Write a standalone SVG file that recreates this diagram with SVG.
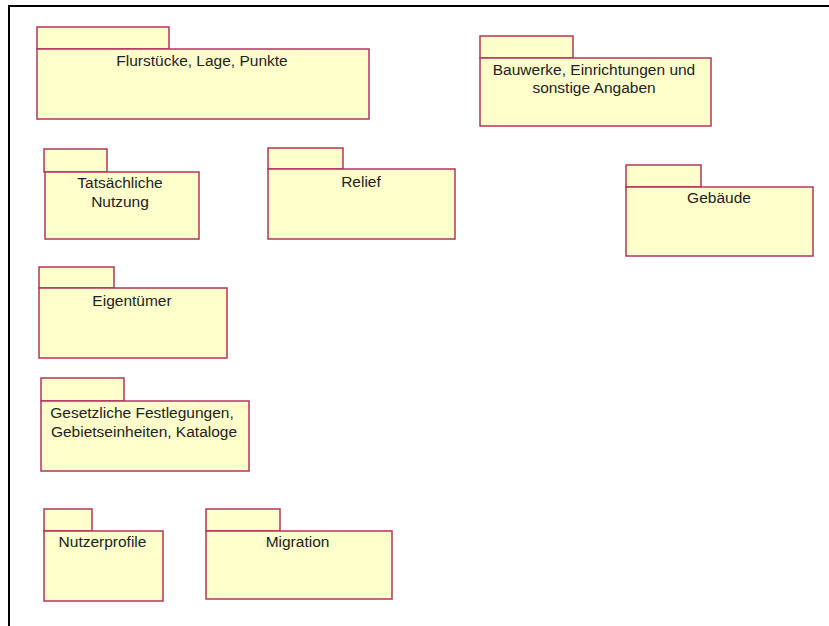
<svg xmlns="http://www.w3.org/2000/svg" width="829" height="626" viewBox="0 0 829 626">
  <style>
    .pkg rect { fill: #FFFFCC; stroke: #B3345E; stroke-width: 1.5; }
    .pkg text { font-family: "Liberation Sans", Arial, sans-serif; font-size: 15.5px; fill: #222; text-anchor: middle; }
    .frame { fill: none; stroke: #000; stroke-width: 2; }
  </style>
  <rect width="829" height="626" fill="#fff"/>
  <!-- diagram frame (open to the right and bottom) -->
  <path class="frame" d="M9 626 V6 H829"/>

  <g id="connectors"></g>

  <g id="flurstuecke" class="pkg">
    <rect x="37" y="27" width="132" height="22"/>
    <rect x="37" y="49" width="332" height="70"/>
    <text x="202" y="66">Flurstücke, Lage, Punkte</text>
  </g>

  <g id="bauwerke" class="pkg">
    <rect x="480" y="36" width="93" height="22"/>
    <rect x="480" y="58" width="231" height="68"/>
    <text x="594" y="75">Bauwerke, Einrichtungen und</text>
    <text x="594" y="93">sonstige Angaben</text>
  </g>

  <g id="nutzung" class="pkg">
    <rect x="44" y="149" width="63" height="23"/>
    <rect x="45" y="172" width="154" height="67"/>
    <text x="120" y="188">Tatsächliche</text>
    <text x="120" y="207">Nutzung</text>
  </g>

  <g id="relief" class="pkg">
    <rect x="268" y="148" width="75" height="21"/>
    <rect x="268" y="169" width="187" height="70"/>
    <text x="361" y="187">Relief</text>
  </g>

  <g id="gebaeude" class="pkg">
    <rect x="626" y="165" width="75" height="22"/>
    <rect x="626" y="187" width="187" height="69"/>
    <text x="719" y="203">Gebäude</text>
  </g>

  <g id="eigentuemer" class="pkg">
    <rect x="39" y="267" width="75" height="21"/>
    <rect x="39" y="288" width="188" height="70"/>
    <text x="132" y="306">Eigentümer</text>
  </g>

  <g id="festlegungen" class="pkg">
    <rect x="41" y="378" width="83" height="23"/>
    <rect x="41" y="401" width="208" height="70"/>
    <text x="142" y="418">Gesetzliche Festlegungen,</text>
    <text x="144" y="437">Gebietseinheiten, Kataloge</text>
  </g>

  <g id="nutzerprofile" class="pkg">
    <rect x="44" y="509" width="48" height="22"/>
    <rect x="44" y="531" width="119" height="70"/>
    <text x="102.5" y="547">Nutzerprofile</text>
  </g>

  <g id="migration" class="pkg">
    <rect x="206" y="509" width="74" height="22"/>
    <rect x="206" y="531" width="186" height="68"/>
    <text x="297.5" y="547">Migration</text>
  </g>
</svg>
